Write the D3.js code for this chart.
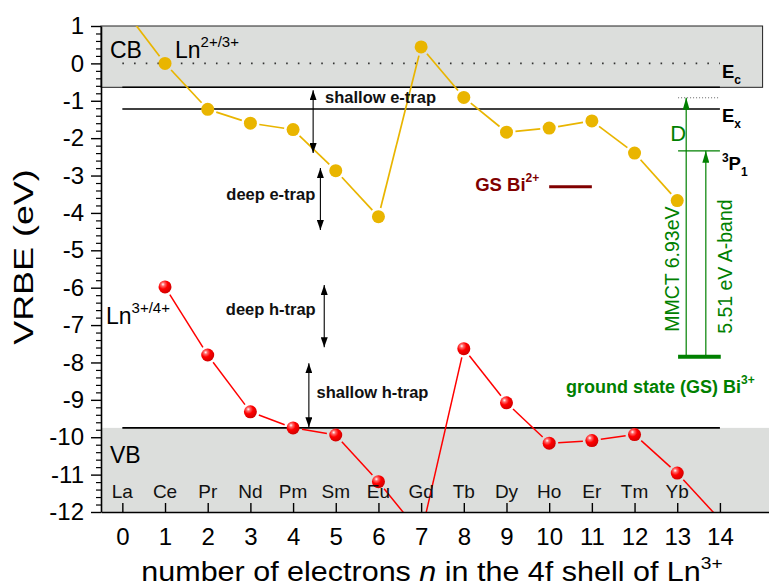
<!DOCTYPE html>
<html>
<head>
<meta charset="utf-8">
<script src="https://cdn.jsdelivr.net/npm/d3@7"></script>
<style>
  html, body { margin: 0; padding: 0; background: #fff; }
  svg { display: block; font-family: "Liberation Sans", Arial, Helvetica, sans-serif; }
</style>
</head>
<body>
<svg id="chart" width="769" height="587"></svg>
<script>
// number of electrons n in the 4f shell of Ln3+
const electrons = [0, 1, 2, 3, 4, 5, 6, 7, 8, 9, 10, 11, 12, 13, 14];
const lanthanides = ["La", "Ce", "Pr", "Nd", "Pm", "Sm", "Eu", "Gd", "Tb", "Dy", "Ho", "Er", "Tm", "Yb"];

// VRBE of the Ln2+ ground state (Ln2+/3+ charge transition level), eV
const vrbeLn2 = [1.5, 0.0, -1.23, -1.60, -1.77, -2.87, -4.10, 0.44, -0.91, -1.84, -1.73, -1.54, -2.40, -3.67];
// VRBE of the Ln3+ ground state (Ln3+/4+ charge transition level), eV
const vrbeLn3 = [null, -5.98, -7.80, -9.32, -9.75, -9.94, -11.19, -12.6, -7.63, -9.08, -10.16, -10.09, -9.93, -10.96, -12.2];

const xTicks = [0, 1, 2, 3, 4, 5, 6, 7, 8, 9, 10, 11, 12, 13, 14];
const yTicks = [1, 0, -1, -2, -3, -4, -5, -6, -7, -8, -9, -10, -11, -12];

// host band levels, eV
const levelEc = -0.64;   // conduction band bottom
const levelEx = -1.22;   // exciton level
const levelEv = -9.75;   // valence band top

// Bi levels, eV
const gsBi3 = -7.85;       // ground state Bi3+
const mmctEnergy = 6.93;   // metal-to-metal charge transfer
const aBandEnergy = 5.51;  // A-band (1S0 -> 3P1)
const gsBi2 = -3.30;       // ground state Bi2+

// trap depth arrows: [n, from, to]
const trapArrows = [
  { n: 4.47, from: -0.72, to: -2.40, label: "shallow e-trap", lx: 4.75, ly: -1.05, anchor: "start" },
  { n: 4.64, from: -2.80, to: -4.46, label: "deep e-trap",    lx: 4.52, ly: -3.66, anchor: "end" },
  { n: 4.73, from: -5.93, to: -7.59, label: "deep h-trap",    lx: 4.53, ly: -6.73, anchor: "end" },
  { n: 4.37, from: -8.02, to: -9.73, label: "shallow h-trap", lx: 4.55, ly: -8.95, anchor: "start" }
];

const colLn2 = "#e9b500";
const colLn3 = "#ff0000";
const colBand = "#dcdedc";
const colGreen = "#008000";
const colBi2 = "#800000";

const svg = d3.select("#chart");
const x = d3.scaleLinear().domain([-0.5, 15.15]).range([101, 769]);
const y = d3.scaleLinear().domain([-12, 1]).range([512, 26]);

const defs = svg.append("defs");
defs.append("clipPath").attr("id", "plotClip")
  .append("rect")
  .attr("x", x(-0.5)).attr("y", y(1))
  .attr("width", x(15.15) - x(-0.5)).attr("height", y(-12) - y(1));

const ball = defs.append("radialGradient").attr("id", "redBall")
  .attr("cx", "36%").attr("cy", "32%").attr("r", "70%").attr("fx", "34%").attr("fy", "30%");
ball.append("stop").attr("offset", "0%").attr("stop-color", "#ffffff");
ball.append("stop").attr("offset", "20%").attr("stop-color", "#ff6a6a");
ball.append("stop").attr("offset", "50%").attr("stop-color", "#ff0000");
ball.append("stop").attr("offset", "100%").attr("stop-color", "#d00000");

function arrowMarker(id, color, len, wid) {
  defs.append("marker").attr("id", id)
    .attr("markerUnits", "userSpaceOnUse")
    .attr("markerWidth", len).attr("markerHeight", wid)
    .attr("refX", len).attr("refY", wid / 2)
    .attr("orient", "auto-start-reverse")
    .append("path")
    .attr("d", `M0,0L${len},${wid / 2}L0,${wid}Z`)
    .attr("fill", color);
}
arrowMarker("headBlack", "#000", 10, 7);
arrowMarker("headGreen", colGreen, 12, 7);

// conduction band and valence band regions
svg.append("rect")
  .attr("x", x(-0.5)).attr("y", y(1))
  .attr("width", x(15) - x(-0.5)).attr("height", y(levelEc) - y(1))
  .attr("fill", colBand).attr("stroke", "#222").attr("stroke-width", 1);
svg.append("rect")
  .attr("x", x(-0.5)).attr("y", y(levelEv))
  .attr("width", x(15.15) - x(-0.5)).attr("height", y(-12) - y(levelEv))
  .attr("fill", colBand);

// vacuum-referred zero
svg.append("line")
  .attr("x1", x(0)).attr("x2", x(14)).attr("y1", y(0)).attr("y2", y(0))
  .attr("stroke", "#333").attr("stroke-width", 1.6).attr("stroke-dasharray", "1.6 10.1");

// Ec, Ex and Ev levels
[levelEc, levelEx, levelEv].forEach(v => {
  svg.append("line")
    .attr("x1", x(0)).attr("x2", x(14)).attr("y1", y(v)).attr("y2", y(v))
    .attr("stroke", "#000").attr("stroke-width", 1.6);
});

// data curves, with a small gap around each marker
const R = 6.5;
function drawSeries(values, color, width) {
  const g = svg.append("g").attr("clip-path", "url(#plotClip)");
  const pts = values.map((v, i) => v === null ? null : [x(electrons[i]), y(v)]);
  for (let i = 0; i < pts.length - 1; i++) {
    const a = pts[i], b = pts[i + 1];
    if (!a || !b) continue;
    const dx = b[0] - a[0], dy = b[1] - a[1];
    const L = Math.hypot(dx, dy), gap = R + 2.5;
    const ux = dx / L, uy = dy / L;
    g.append("line")
      .attr("x1", a[0] + ux * gap).attr("y1", a[1] + uy * gap)
      .attr("x2", b[0] - ux * gap).attr("y2", b[1] - uy * gap)
      .attr("stroke", color).attr("stroke-width", width);
  }
  return g;
}
const gLn2 = drawSeries(vrbeLn2, colLn2, 1.7);
gLn2.selectAll("circle").data(vrbeLn2.map((v, i) => ({ n: electrons[i], v })).filter(d => d.v !== null))
  .join("circle")
  .attr("cx", d => x(d.n)).attr("cy", d => y(d.v)).attr("r", R)
  .attr("fill", colLn2);

const gLn3 = drawSeries(vrbeLn3, colLn3, 1.5);
gLn3.selectAll("circle").data(vrbeLn3.map((v, i) => ({ n: electrons[i], v })).filter(d => d.v !== null))
  .join("circle")
  .attr("cx", d => x(d.n)).attr("cy", d => y(d.v)).attr("r", R)
  .attr("fill", "url(#redBall)");

// trap depth arrows and labels
trapArrows.forEach(a => {
  svg.append("line")
    .attr("x1", x(a.n)).attr("x2", x(a.n)).attr("y1", y(a.from)).attr("y2", y(a.to))
    .attr("stroke", "#000").attr("stroke-width", 1.1)
    .attr("marker-start", "url(#headBlack)").attr("marker-end", "url(#headBlack)");
  svg.append("text")
    .attr("x", x(a.lx)).attr("y", y(a.ly))
    .attr("text-anchor", a.anchor)
    .attr("font-size", 16.5).attr("font-weight", "bold").attr("fill", "#111")
    .text(a.label);
});

// Bi3+ ground state and transitions
const nBar0 = 13.02, nBar1 = 14.02, nMMCT = 13.21, nAband = 13.67;
const topMMCT = gsBi3 + mmctEnergy;
const level3P1 = gsBi3 + aBandEnergy;

svg.append("line")
  .attr("x1", x(13.02)).attr("x2", x(14)).attr("y1", y(topMMCT)).attr("y2", y(topMMCT))
  .attr("stroke", "#666").attr("stroke-width", 1).attr("stroke-dasharray", "1 2");
svg.append("line")
  .attr("x1", x(13.02)).attr("x2", x(14)).attr("y1", y(level3P1)).attr("y2", y(level3P1))
  .attr("stroke", colGreen).attr("stroke-width", 1.2);
svg.append("line")
  .attr("x1", x(nMMCT)).attr("x2", x(nMMCT)).attr("y1", y(gsBi3)).attr("y2", y(topMMCT))
  .attr("stroke", colGreen).attr("stroke-width", 1.2).attr("marker-end", "url(#headGreen)");
svg.append("line")
  .attr("x1", x(nAband)).attr("x2", x(nAband)).attr("y1", y(gsBi3)).attr("y2", y(level3P1))
  .attr("stroke", colGreen).attr("stroke-width", 1.2).attr("marker-end", "url(#headGreen)");
svg.append("line")
  .attr("x1", x(nBar0)).attr("x2", x(nBar1)).attr("y1", y(gsBi3)).attr("y2", y(gsBi3))
  .attr("stroke", colGreen).attr("stroke-width", 4);

svg.append("text")
  .attr("transform", `translate(${x(nMMCT) - 7},${y(gsBi3) - 25}) rotate(-90)`)
  .attr("font-size", 19.5).attr("fill", colGreen)
  .text(`MMCT ${mmctEnergy}eV`);
svg.append("text")
  .attr("transform", `translate(${x(nAband) + 26},${y(gsBi3) - 23}) rotate(-90)`)
  .attr("font-size", 19.5).attr("fill", colGreen)
  .text(`${aBandEnergy} eV A-band`);
svg.append("text")
  .attr("x", x(nMMCT) - 16).attr("y", y(topMMCT) + 43)
  .attr("font-size", 22).attr("fill", colGreen).text("D");

const gs3 = svg.append("text")
  .attr("x", 566).attr("y", y(gsBi3) + 36)
  .attr("font-size", 18).attr("font-weight", "bold").attr("fill", colGreen);
gs3.append("tspan").text("ground state (GS) Bi");
gs3.append("tspan").attr("dy", -9).attr("font-size", 12).text("3+");

// Bi2+ ground state
svg.append("line")
  .attr("x1", x(10)).attr("x2", x(11)).attr("y1", y(gsBi2)).attr("y2", y(gsBi2))
  .attr("stroke", colBi2).attr("stroke-width", 3.2);
const gs2 = svg.append("text")
  .attr("x", x(10) - 74).attr("y", y(gsBi2) + 4)
  .attr("font-size", 18.5).attr("font-weight", "bold").attr("fill", colBi2);
gs2.append("tspan").text("GS Bi");
gs2.append("tspan").attr("dy", -9).attr("font-size", 12).text("2+");

// level labels on the right
function levelLabel(v, dyMain, sup, sub) {
  const t = svg.append("text").attr("x", x(14) + 2).attr("y", y(v) + dyMain)
    .attr("font-weight", "bold").attr("fill", "#000");
  if (sup) t.append("tspan").attr("font-size", 12).attr("dy", -8).text(sup);
  t.append("tspan").attr("font-size", 18.5).attr("dy", sup ? 8 : 0).text(sup ? "P" : "E");
  t.append("tspan").attr("font-size", 12).attr("dy", 6).text(sub);
}
levelLabel(levelEc, -9, null, "c");
levelLabel(levelEx, 13, null, "x");
levelLabel(level3P1, 19, "3", "1");

// band and series labels
svg.append("text").attr("x", 110).attr("y", 58).attr("font-size", 23).text("CB");
svg.append("text").attr("x", 110).attr("y", 463).attr("font-size", 23).text("VB");

const lab2 = svg.append("text").attr("x", 175).attr("y", 58).attr("font-size", 23);
lab2.append("tspan").text("Ln");
lab2.append("tspan").attr("dy", -11).attr("font-size", 15).text("2+/3+");
const lab3 = svg.append("text").attr("x", 106).attr("y", 324).attr("font-size", 23);
lab3.append("tspan").text("Ln");
lab3.append("tspan").attr("dy", -11).attr("font-size", 15).text("3+/4+");

// element symbols above the n axis
svg.append("g").selectAll("text").data(lanthanides).join("text")
  .attr("x", (d, i) => x(electrons[i])).attr("y", y(-12) - 14)
  .attr("text-anchor", "middle").attr("font-size", 19).attr("fill", "#111")
  .text(d => d);

// axes
const xAxis = svg.append("g").attr("transform", `translate(0,${y(-12)})`)
  .call(d3.axisBottom(x).tickValues(xTicks).tickSizeInner(-9).tickSizeOuter(0).tickPadding(16)
    .tickFormat(d => String(d)));
xAxis.select(".domain").attr("stroke-width", 1.6);
xAxis.selectAll(".tick line").attr("stroke-width", 1.4);
xAxis.selectAll("text").attr("font-size", 24).attr("font-family", "Liberation Sans, Arial, sans-serif").attr("fill", "#000");

const minorTicks = d3.range(-12, 1.0001, 0.2).filter(v => Math.abs(v - Math.round(v)) > 1e-6);
svg.append("g").attr("transform", `translate(${x(-0.5)},0)`)
  .call(d3.axisLeft(y).tickValues(minorTicks).tickSize(5).tickFormat(""))
  .call(g => g.select(".domain").remove())
  .selectAll(".tick line").attr("stroke-width", 1.2);
const yAxis = svg.append("g").attr("transform", `translate(${x(-0.5)},0)`)
  .call(d3.axisLeft(y).tickValues(yTicks).tickSizeInner(10).tickSizeOuter(0).tickPadding(7)
    .tickFormat(d => String(d)));
yAxis.select(".domain").attr("stroke-width", 1.6);
yAxis.selectAll(".tick line").attr("stroke-width", 1.4);
yAxis.selectAll("text").attr("font-size", 24).attr("font-family", "Liberation Sans, Arial, sans-serif").attr("fill", "#000");

// axis titles (set slightly wide)
const xt = svg.append("text")
  .attr("transform", "translate(432,581) scale(1.13,1)")
  .attr("text-anchor", "middle").attr("font-size", 27);
xt.append("tspan").text("number of electrons ");
xt.append("tspan").attr("font-style", "italic").text("n");
xt.append("tspan").text(" in the 4f shell of Ln");
xt.append("tspan").attr("dy", -12).attr("font-size", 17).text("3+");

svg.append("text")
  .attr("transform", "translate(33,257) rotate(-90) scale(1.33,1)")
  .attr("text-anchor", "middle").attr("font-size", 27)
  .text("VRBE (eV)");
</script>
</body>
</html>
